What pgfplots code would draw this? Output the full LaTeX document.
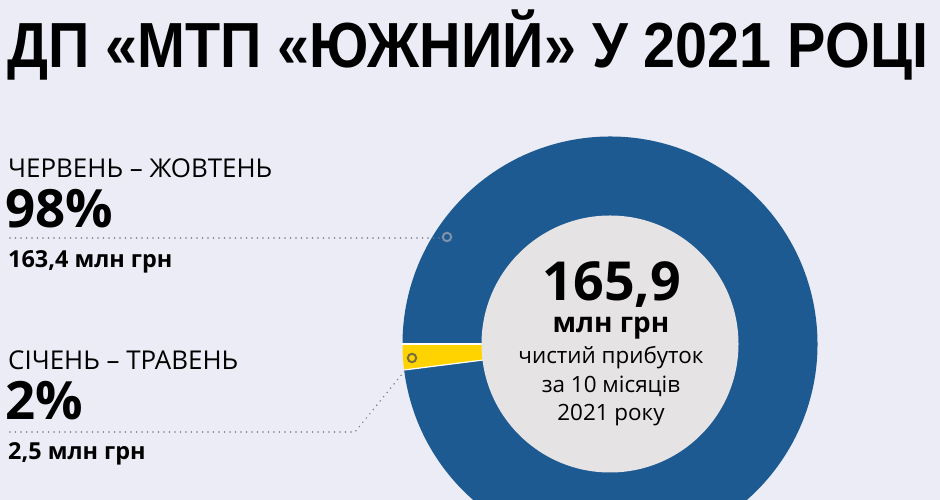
\documentclass[border=0pt]{standalone}
\usepackage{pgfplots}
\pgfplotsset{compat=1.18}
\usepackage{pgfplotstable}
\usepackage{graphicx}
\usepackage{fontspec}
\setmainfont{Open Sans}
\newfontfamily\titlefont{Liberation Sans}
\definecolor{bg}{RGB}{235,236,245}
\definecolor{inner}{RGB}{229,227,228}
\definecolor{cblue}{RGB}{29,90,145}
\definecolor{cyellow}{RGB}{255,211,0}
\definecolor{dotc}{RGB}{120,120,130}
\definecolor{mkblue}{RGB}{128,146,168}
\definecolor{mkyel}{RGB}{120,110,60}

\pgfplotstableread[col sep=comma]{
period,value,share
Червень – Жовтень,163.4,98
Січень – Травень,2.5,2
}\datatable

\newlength\titlew
\begin{document}%
\pgfplotstablegetelem{0}{share}\of\datatable\let\shareA\pgfplotsretval%
\pgfplotstablegetelem{1}{share}\of\datatable\let\shareB\pgfplotsretval%
\pgfmathsetmacro\angB{180+3.6*\shareB}%
\pgfmathsetmacro\angA{\angB+3.6*\shareA}%
\settowidth\titlew{\titlefont\bfseries\fontsize{64}{64}\selectfont ДП «МТП «ЮЖНИЙ» У 2021 РОЦІ}%
\pgfmathsetmacro\tsx{921bp/\titlew}%
\begin{tikzpicture}
\begin{axis}[
  width=940bp, height=500bp, scale only axis,
  xmin=0, xmax=940, ymin=0, ymax=500,
  hide axis, clip=true,
]
\coordinate (sw) at (axis cs:0,0);
\coordinate (ne) at (axis cs:940,500);
% background
\fill[bg] (axis cs:-5,-5) rectangle (axis cs:945,505);
% donut: outer sectors
\fill[cblue] (axis cs:610,156) -- ++(\angB:207.5bp) arc[start angle=\angB, end angle=\angA, radius=207.5bp] -- cycle;
\fill[cyellow] (axis cs:610,156) -- ++(180:207.5bp) arc[start angle=180, end angle=\angB, radius=207.5bp] -- cycle;
\draw[white, line width=1.2bp] (axis cs:610,156) -- ++(180:208bp);
\draw[white, line width=1.2bp] (axis cs:610,156) -- ++(\angB:208bp);
\fill[inner] (axis cs:610,156) circle[radius=128.5bp];
% leader lines
\draw[dotc, line width=1.6bp, line cap=round, dash pattern=on 0bp off 5.5bp] (axis cs:10,262) -- (axis cs:441,262);
\draw[dotc, line width=1.6bp, line cap=round, dash pattern=on 0bp off 5.5bp] (axis cs:10,68) -- (axis cs:355,68) -- (axis cs:407,132);
\addplot[only marks, mark=o, mark size=4.2bp, mark options={line width=2bp, draw=mkblue}] coordinates {(447,263)};
\addplot[only marks, mark=o, mark size=4.2bp, mark options={line width=2bp, draw=mkyel}] coordinates {(412,142)};
% title
\node[anchor=base west, inner sep=0] at (axis cs:7,432) {\scalebox{\tsx}[1]{\titlefont\bfseries\fontsize{64}{64}\selectfont ДП «МТП «ЮЖНИЙ» У 2021 РОЦІ}};
% left labels
\node[anchor=base west, inner sep=0] at (axis cs:8,322) {\fontsize{26}{26}\selectfont ЧЕРВЕНЬ – ЖОВТЕНЬ};
\node[anchor=base west, inner sep=0] at (axis cs:5,272) {\bfseries\fontsize{53}{53}\selectfont 98\%};
\node[anchor=base west, inner sep=0] at (axis cs:8,232) {\bfseries\fontsize{23.5}{23.5}\selectfont 163,4 млн грн};
\node[anchor=base west, inner sep=0] at (axis cs:8,130) {\fontsize{26}{26}\selectfont СІЧЕНЬ – ТРАВЕНЬ};
\node[anchor=base west, inner sep=0] at (axis cs:5,80) {\bfseries\fontsize{53}{53}\selectfont 2\%};
\node[anchor=base west, inner sep=0] at (axis cs:8,40) {\bfseries\fontsize{23.5}{23.5}\selectfont 2,5 млн грн};
% centre
\node[anchor=base, inner sep=0] at (axis cs:612,199) {\bfseries\fontsize{54}{54}\selectfont 165,9};
\node[anchor=base, inner sep=0] at (axis cs:611,167) {\bfseries\fontsize{28}{28}\selectfont млн грн};
\node[anchor=base, inner sep=0] at (axis cs:611,136) {\fontsize{22.5}{22.5}\selectfont чистий прибуток};
\node[anchor=base, inner sep=0] at (axis cs:611,107) {\fontsize{22.5}{22.5}\selectfont за 10 місяців};
\node[anchor=base, inner sep=0] at (axis cs:611,79) {\fontsize{22.5}{22.5}\selectfont 2021 року};
\end{axis}
\pgfresetboundingbox
\path[use as bounding box] (sw) rectangle (ne);
\end{tikzpicture}%
\end{document}
